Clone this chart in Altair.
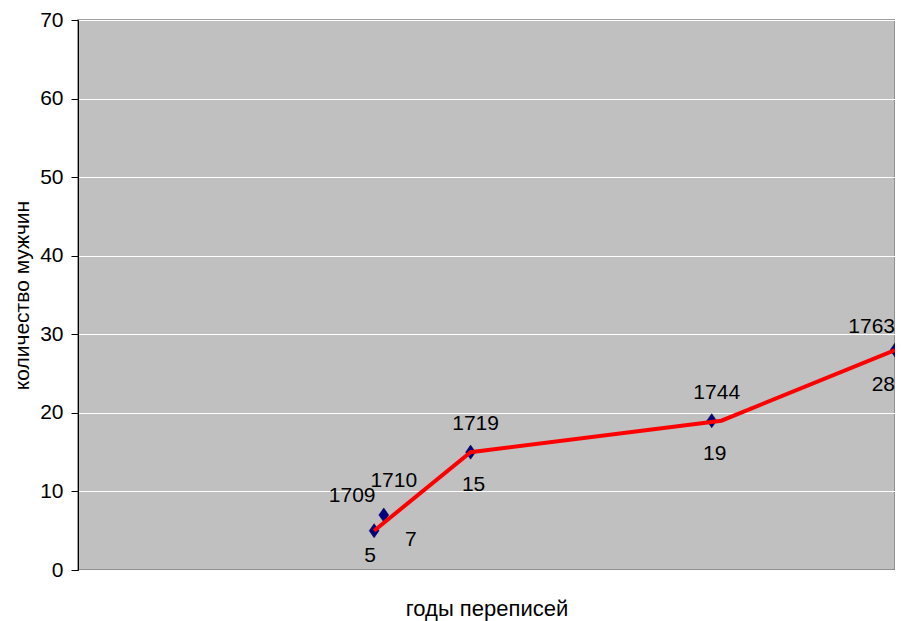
import altair as alt
import pandas as pd

# Census points (diamonds)
years = [1709, 1710, 1719, 1744, 1763]
men = [5, 7, 15, 19, 28]

# Red trend line
line_years = [1709, 1719, 1745, 1763]
line_men = [5, 15, 19, 28]

y_ticks = [0, 10, 20, 30, 40, 50, 60, 70]

pts = pd.DataFrame({"year": years, "men": men})
pts["year_lbl"] = pts["year"].astype(str)
pts["men_lbl"] = pts["men"].astype(str)
ln = pd.DataFrame({"year": line_years, "men": line_men})

FONT = "Liberation Sans"
FS = 21
TFS = 22

xs = alt.Scale(domain=[1678.3, 1763], nice=False, zero=False)
ys = alt.Scale(domain=[0, 70], nice=False)

x_enc = alt.X("year:Q", scale=xs,
              axis=alt.Axis(title="годы переписей", labels=False, ticks=False,
                            domain=False, grid=False, titleFont=FONT,
                            titleFontSize=TFS, titleFontWeight="normal",
                            titleColor="black", titlePadding=28))
y_enc = alt.Y("men:Q", scale=ys,
              axis=alt.Axis(title="количество мужчин", values=y_ticks,
                            grid=True, gridColor="white", gridWidth=1,
                            domainColor="black", tickColor="black", tickSize=7,
                            labelFont=FONT, labelFontSize=FS, labelColor="black",
                            labelPadding=8, titleFont=FONT, titleFontSize=21,
                            titleFontWeight="normal", titleColor="black",
                            titlePadding=7))

base = alt.Chart(pts)

points = base.mark_point(shape="M-0.7,0L0,-1L0.7,0L0,1Z", filled=True, size=200,
                         color="#000080", stroke="#000040", strokeWidth=0.5,
                         opacity=1).encode(x=x_enc, y=y_enc)

line = alt.Chart(ln).mark_line(color="#FF0000", strokeWidth=4).encode(
    x=alt.X("year:Q", scale=xs), y=alt.Y("men:Q", scale=ys))


def lbl(field, yrs, dx, dy, align="center"):
    return base.transform_filter(
        alt.FieldOneOfPredicate(field="year", oneOf=yrs)
    ).mark_text(font=FONT, fontSize=FS, color="black", dx=dx, dy=dy,
                align=align, baseline="middle").encode(
        x=alt.X("year:Q", scale=xs), y=alt.Y("men:Q", scale=ys),
        text=f"{field}:N")


labels = [
    lbl("year_lbl", [1719, 1744], 5, -28),
    lbl("year_lbl", [1709], -22, -35),
    lbl("year_lbl", [1710], 10, -34),
    lbl("year_lbl", [1763], 0, -23, "right"),
    lbl("men_lbl", [1719, 1744], 3, 33),
    lbl("men_lbl", [1709], -4, 25),
    lbl("men_lbl", [1710], 27, 25),
    lbl("men_lbl", [1763], 0, 35, "right"),
]

chart = alt.layer(points, line, *labels).properties(
    width=817, height=550,
    autosize=alt.AutoSizeParams(type="none"),
    padding={"left": 70, "top": 12, "right": 0, "bottom": 51},
).configure_view(fill="#C0C0C0", stroke="#808080", strokeWidth=1.5)

chart.save("out.html", embed_options={"renderer": "svg", "actions": False})
